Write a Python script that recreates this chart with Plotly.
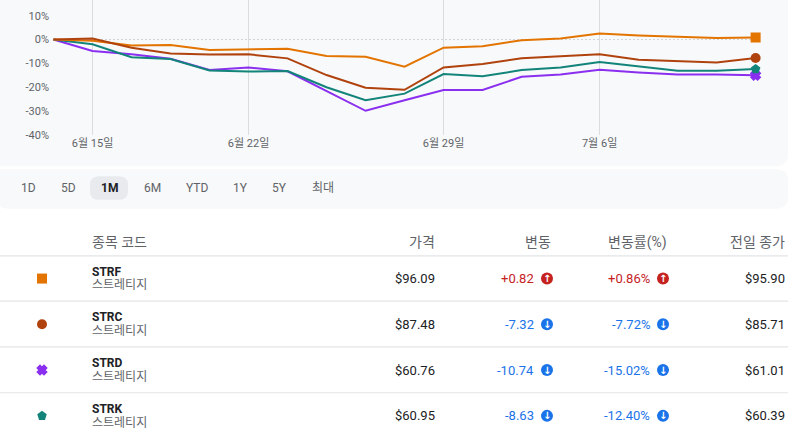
import plotly.graph_objects as go

W, H = 800, 446

# ---------------- data ----------------
days = ["2026-06-12", "2026-06-15", "2026-06-16", "2026-06-17", "2026-06-18",
        "2026-06-22", "2026-06-23", "2026-06-24", "2026-06-25", "2026-06-26",
        "2026-06-29", "2026-06-30", "2026-07-01", "2026-07-02", "2026-07-06",
        "2026-07-07", "2026-07-08", "2026-07-09", "2026-07-10"]
tick_days = ["2026-06-15", "2026-06-22", "2026-06-29", "2026-07-06"]
tick_labels = ["6월 15일", "6월 22일", "6월 29일", "7월 6일"]
y_ticks = [10, 0, -10, -20, -30, -40]

strf = [0, -0.5, -2.5, -2.3, -4.4, -4.1, -3.9, -6.9, -7.2, -11.4, -3.4, -2.8,
        -0.3, 0.4, 2.5, 1.7, 1.1, 0.7, 0.86]
strc = [0, 0.4, -3.4, -5.9, -6.3, -6.2, -7.9, -14.9, -20.2, -21.1, -11.7, -10.3,
        -7.9, -7.2, -6.2, -8.5, -9.1, -9.6, -7.72]
strd = [0, -4.8, -6.2, -8.1, -12.8, -11.7, -13.3, -21.7, -29.9, -25.5, -21.2, -21.2,
        -15.6, -14.7, -12.7, -13.8, -14.7, -14.7, -15.02]
strk = [0, -2.0, -7.4, -8.2, -13.0, -13.4, -13.2, -20.0, -25.5, -22.7, -14.5, -15.4,
        -12.8, -11.7, -9.4, -11.3, -13.1, -13.1, -12.40]

tickers = ["STRF", "STRC", "STRD", "STRK"]
names = ["스트레티지", "스트레티지", "스트레티지", "스트레티지"]
prices = ["$96.09", "$87.48", "$60.76", "$60.95"]
changes = ["+0.82", "-7.32", "-10.74", "-8.63"]
pcts = ["+0.86%", "-7.72%", "-15.02%", "-12.40%"]
prev_close = ["$95.90", "$85.71", "$61.01", "$60.39"]
headers = ["종목 코드", "가격", "변동", "변동률(%)", "전일 종가"]
range_buttons = ["1D", "5D", "1M", "6M", "YTD", "1Y", "5Y", "최대"]
active_range = "1M"

series_vals = {"STRF": strf, "STRC": strc, "STRD": strd, "STRK": strk}
colors = {"STRF": "#e37400", "STRC": "#b0420e", "STRD": "#8a2ff0", "STRK": "#12847a"}
symbols = {"STRF": "square", "STRC": "circle", "STRD": "x", "STRK": "pentagon"}
draw_order = ["STRD", "STRK", "STRF", "STRC"]

FONT = "Roboto, 'Noto Sans CJK KR', sans-serif"
GRAY = "#5f6368"
DARK = "#202124"
RED = "#c5221f"
BLUE = "#1a73e8"
PANEL = "#f8f9fa"


def PX(x):
    return x / W


def PY(y):
    return 1 - y / H


def msize(t):
    return 7 if symbols[t] == "x" else 10


def mline(t):
    return 2.5 if symbols[t] == "x" else 0


fig = go.Figure()

# baseline (0%) dotted line
fig.add_trace(go.Scatter(x=days, y=[0] * len(days), mode="lines",
                         line=dict(color="#a8adb3", width=1, dash="1px,3px"),
                         hoverinfo="skip", showlegend=False))

for t in draw_order:
    v = series_vals[t]
    fig.add_trace(go.Scatter(x=days, y=v, mode="lines", name=t,
                             line=dict(color=colors[t], width=2),
                             showlegend=False))
for t in ["STRD", "STRK", "STRC", "STRF"]:
    v = series_vals[t]
    fig.add_trace(go.Scatter(x=[days[-1]], y=[v[-1]], mode="markers",
                             marker=dict(color=colors[t], symbol=symbols[t], size=msize(t),
                                         opacity=1,
                                         line=dict(width=mline(t), color=colors[t])),
                             showlegend=False, hoverinfo="skip"))

# ---------------- table layer (overlay axes in pixel units) ----------------
row_c = [283 + i * 46.5 for i in range(len(tickers))]

for i, t in enumerate(tickers):
    fig.add_trace(go.Scatter(
        x=[42], y=[row_c[i]], mode="markers", xaxis="x2", yaxis="y2",
        marker=dict(color=colors[t], symbol=symbols[t], size=msize(t), opacity=1,
                    line=dict(width=mline(t), color=colors[t])),
        showlegend=False, hoverinfo="skip"))

arrow_col = [RED if c.startswith("+") else BLUE for c in changes]
fig.add_trace(go.Scatter(
    x=[547] * len(tickers) + [663] * len(tickers), y=row_c + row_c, mode="markers",
    xaxis="x2", yaxis="y2",
    marker=dict(color=arrow_col + arrow_col, symbol="circle", size=12, opacity=1),
    showlegend=False, hoverinfo="skip"))

ann = []
shapes = []

# panels
shapes.append(dict(type="path", xref="paper", yref="paper", layer="below",
                   path=f"M {PX(-20)},{PY(-20)} L {PX(788)},{PY(-20)} L {PX(788)},{PY(157)} "
                        f"Q {PX(788)},{PY(169)} {PX(776)},{PY(169)} L {PX(-20)},{PY(169)} Z",
                   fillcolor=PANEL, line=dict(width=0)))
shapes.append(dict(type="path", xref="paper", yref="paper", layer="below",
                   path=f"M {PX(-4)},{PY(172)} L {PX(776)},{PY(172)} Q {PX(788)},{PY(172)} {PX(788)},{PY(184)} "
                        f"L {PX(788)},{PY(200)} Q {PX(788)},{PY(212)} {PX(776)},{PY(212)} "
                        f"L {PX(8)},{PY(212)} Q {PX(-4)},{PY(212)} {PX(-4)},{PY(200)} Z",
                   fillcolor=PANEL, line=dict(width=0)))

# range buttons
btn_x = [28, 68, 109, 152, 197, 240, 279, 323]
for lab, bx in zip(range_buttons, btn_x):
    act = lab == active_range
    if act:
        shapes.append(dict(type="path", xref="paper", yref="paper", layer="below",
                           path=f"M {PX(bx-9)},{PY(179)} L {PX(bx+9)},{PY(179)} "
                                f"Q {PX(bx+19)},{PY(179)} {PX(bx+19)},{PY(187)} L {PX(bx+19)},{PY(195)} "
                                f"Q {PX(bx+19)},{PY(203)} {PX(bx+9)},{PY(203)} L {PX(bx-9)},{PY(203)} "
                                f"Q {PX(bx-19)},{PY(203)} {PX(bx-19)},{PY(195)} L {PX(bx-19)},{PY(187)} "
                                f"Q {PX(bx-19)},{PY(179)} {PX(bx-9)},{PY(179)} Z",
                           fillcolor="#e8eaed", line=dict(width=0)))
    ann.append(dict(x=PX(bx), y=PY(191.5), xref="paper", yref="paper", showarrow=False,
                    text=f"<b>{lab}</b>" if act else lab, xanchor="center", yanchor="middle",
                    font=dict(family=FONT, size=12, color=DARK if act else GRAY)))

# header
hdr_x = [90, 437, 553, 669, 787]
hdr_anchor = ["left", "right", "right", "right", "right"]
for h, hx, ha in zip(headers, hdr_x, hdr_anchor):
    ann.append(dict(x=PX(hx), y=PY(246), xref="paper", yref="paper", showarrow=False,
                    text=h, xanchor=ha, yanchor="middle",
                    font=dict(family=FONT, size=14, color=GRAY)))

# separators
for sy in [260] + [306 + i * 46.5 for i in range(len(tickers) - 1)]:
    shapes.append(dict(type="line", xref="paper", yref="paper", layer="below",
                       x0=PX(0), x1=PX(788), y0=PY(sy), y1=PY(sy),
                       line=dict(color="#e3e4e6", width=1.2)))

for i, t in enumerate(tickers):
    c = row_c[i]
    ann.append(dict(x=PX(90), y=PY(c - 7), xref="paper", yref="paper", showarrow=False,
                    text=f"<b>{t}</b>", xanchor="left", yanchor="middle",
                    font=dict(family=FONT, size=12, color=DARK)))
    ann.append(dict(x=PX(90), y=PY(c + 7), xref="paper", yref="paper", showarrow=False,
                    text=names[i], xanchor="left", yanchor="middle",
                    font=dict(family=FONT, size=12, color=GRAY)))
    ann.append(dict(x=PX(437), y=PY(c), xref="paper", yref="paper", showarrow=False,
                    text=prices[i], xanchor="right", yanchor="middle",
                    font=dict(family=FONT, size=13, color=DARK)))
    ann.append(dict(x=PX(536), y=PY(c), xref="paper", yref="paper", showarrow=False,
                    text=changes[i], xanchor="right", yanchor="middle",
                    font=dict(family=FONT, size=13, color=arrow_col[i])))
    ann.append(dict(x=PX(652), y=PY(c), xref="paper", yref="paper", showarrow=False,
                    text=pcts[i], xanchor="right", yanchor="middle",
                    font=dict(family=FONT, size=13, color=arrow_col[i])))
    ann.append(dict(x=PX(787), y=PY(c), xref="paper", yref="paper", showarrow=False,
                    text=prev_close[i], xanchor="right", yanchor="middle",
                    font=dict(family=FONT, size=13, color=DARK)))
    arrow = "↑" if changes[i].startswith("+") else "↓"
    for ax in (547, 663):
        ann.append(dict(x=PX(ax), y=PY(c), xref="paper", yref="paper", showarrow=False,
                        text=f"<b>{arrow}</b>", xanchor="center", yanchor="middle",
                        font=dict(family="DejaVu Sans", size=10, color="white")))

fig.update_layout(
    width=W,
    autosize=True,
    margin=dict(l=0, r=0, t=0, b=0),
    paper_bgcolor="white",
    plot_bgcolor="rgba(0,0,0,0)",
    showlegend=False,
    hovermode=False,
    xaxis=dict(type="category", domain=[PX(50), PX(788)], range=[-0.09, 18.83],
               tickvals=tick_days, ticktext=tick_labels, showgrid=True,
               gridcolor="#dadce0", gridwidth=1, zeroline=False, showline=False,
               ticks="", tickfont=dict(family=FONT, size=11, color=GRAY),
               fixedrange=True),
    yaxis=dict(domain=[PY(137), 1], range=[-40, 16.6], tickvals=y_ticks,
               ticktext=[f"{v}%" for v in y_ticks], showgrid=False, zeroline=False,
               showline=False, ticks="", tickfont=dict(family=FONT, size=11, color=GRAY),
               fixedrange=True),
    xaxis2=dict(domain=[0, 1], range=[0, W], visible=False, anchor="y2", fixedrange=True),
    yaxis2=dict(domain=[0, 1], range=[H, 0], visible=False, anchor="x2", fixedrange=True),
    shapes=shapes,
    annotations=ann,
)

post = ("document.documentElement.style.margin='0';"
        "document.body.style.margin='0';"
        "document.body.style.overflow='hidden';"
        "document.documentElement.style.overflow='hidden';"
        "var gd=document.querySelector('.plotly-graph-div');"
        "gd.style.position='fixed';gd.style.left='0px';gd.style.top='0px';")

fig.write_html("out.html", config={"displayModeBar": False, "staticPlot": True},
               default_width="800px", default_height="100vh",
               post_script=post)
